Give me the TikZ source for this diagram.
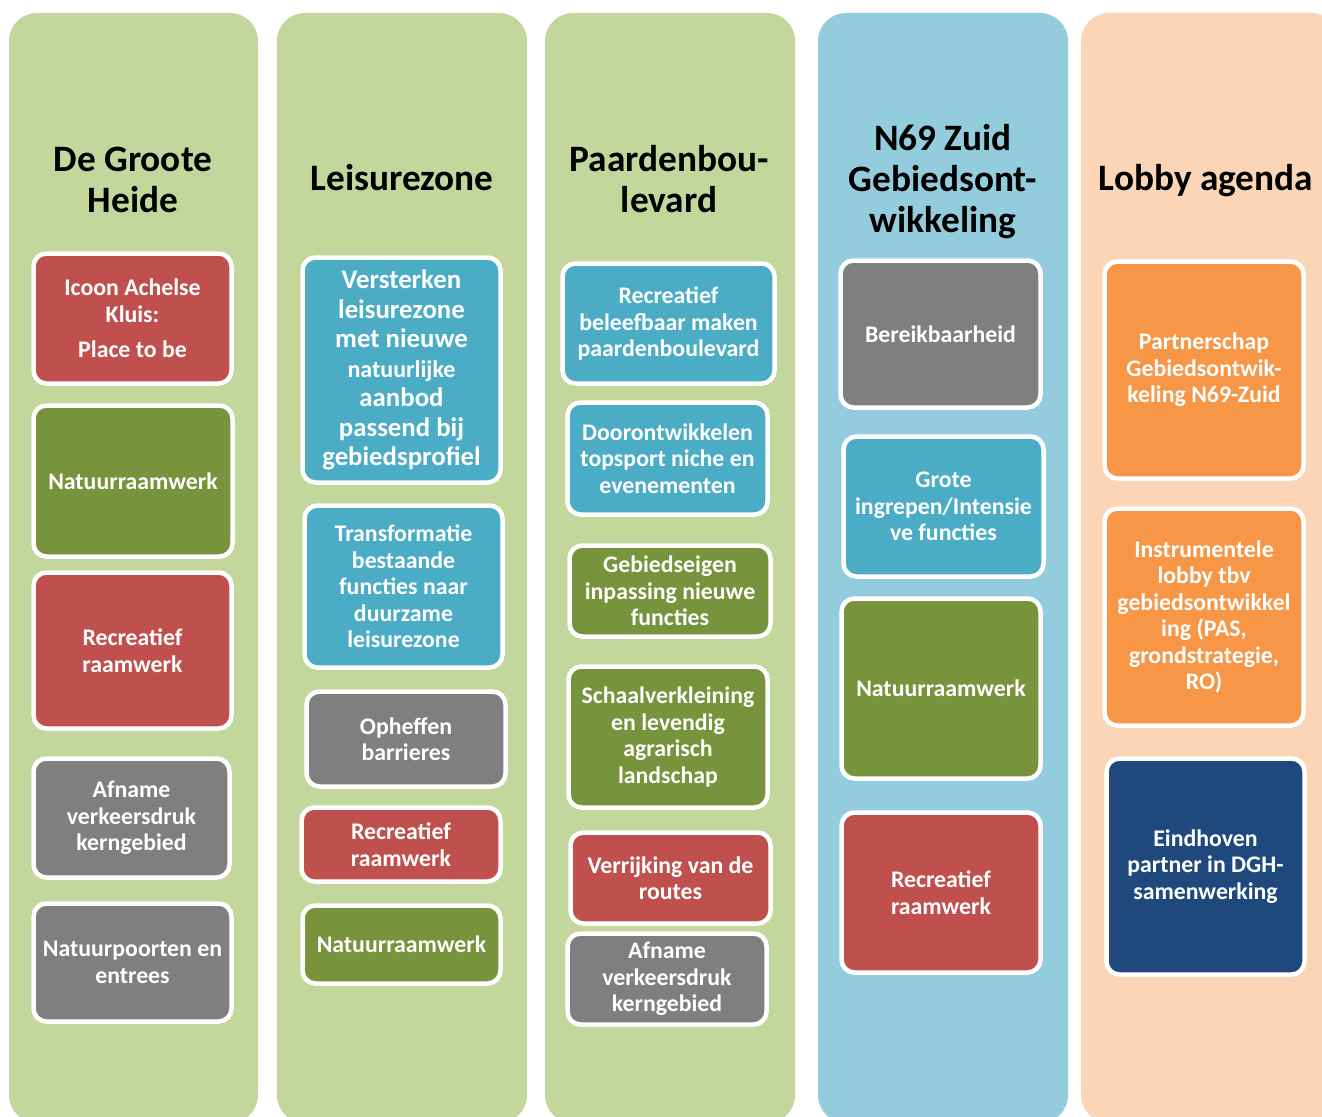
\documentclass[tikz,border=0pt]{standalone}
\usepackage{fontspec}
\setmainfont{Carlito}
\definecolor{colgreen}{HTML}{C3D69B}
\definecolor{colblue}{HTML}{93CDDD}
\definecolor{colpeach}{HTML}{FBD5B5}
\definecolor{bred}{HTML}{C0504D}
\definecolor{bgreen}{HTML}{77933C}
\definecolor{bgray}{HTML}{7F7F7F}
\definecolor{bblue}{HTML}{4BACC6}
\definecolor{borange}{HTML}{F79646}
\definecolor{bnavy}{HTML}{1F497D}
\tikzset{
  column/.style={rounded corners=28pt, draw=none, inner sep=0pt},
  coltitle/.style={align=center, text=black, font=\bfseries\fontsize{37.3}{41}\selectfont, inner sep=0pt},
  box/.style={draw=white, line width=4.5pt, rounded corners=13pt, text=white, align=center, inner sep=0pt,
    font=\bfseries\fontsize{23.8}{26.5}\selectfont},
  bigbox/.style={box, font=\bfseries\fontsize{26.8}{29.5}\selectfont}
}
\begin{document}
\begin{tikzpicture}[x=1pt,y=-1pt]
\useasboundingbox (0,0) rectangle (1322,1116);
\clip (0,0) rectangle (1322,1116);
\fill[white] (0,0) rectangle (1322,1116);
% columns
\node[column, fill=colgreen, minimum width=249pt, minimum height=1110pt] (col1) at (133.5,568) {};
\node[column, fill=colgreen, minimum width=250pt, minimum height=1110pt] (col2) at (402,568) {};
\node[column, fill=colgreen, minimum width=250pt, minimum height=1110pt] (col3) at (670,568) {};
\node[column, fill=colblue, minimum width=250pt, minimum height=1110pt] (col4) at (943,568) {};
\node[column, fill=colpeach, minimum width=259pt, minimum height=1110pt] (col5) at (1210.5,568) {};
% titles
\node[coltitle] (t1) at (133,179.5) {De Groote\\Heide};
\node[coltitle] (t2) at (402,178) {Leisurezone};
\node[coltitle] (t3) at (669,179.5) {Paardenbou-\\levard};
\node[coltitle] (t4) at (943,182) {N69 Zuid\\Gebiedsont-\\wikkeling};
\node[coltitle] (t5) at (1206,181) {Lobby agenda};
% column 1
\node[box, fill=bred, minimum width=198pt, minimum height=130pt] (b1) at (132.5,318.5) {Icoon Achelse\\Kluis:\\[9pt]Place to be};
\node[box, fill=bgreen, minimum width=199pt, minimum height=151pt] (b2) at (133,481) {Natuurraamwerk};
\node[box, fill=bred, minimum width=198pt, minimum height=156pt] (b3) at (132.5,650.5) {Recreatief\\raamwerk};
\node[box, fill=bgray, minimum width=196pt, minimum height=119pt] (b4) at (131.5,818) {Afname\\verkeersdruk\\kerngebied};
\node[box, fill=bgray, minimum width=198pt, minimum height=118pt] (b5) at (132.5,962.5) {Natuurpoorten en\\entrees};
% column 2
\node[bigbox, fill=bblue, minimum width=198pt, minimum height=225pt] (c1) at (401.5,370) {Versterken\\leisurezone\\met nieuwe\\{\fontsize{24}{29.5}\selectfont natuurlijke}\\aanbod\\passend bij\\gebiedsprofiel};
\node[box, fill=bblue, minimum width=198pt, minimum height=162pt] (c2) at (403.5,586.5) {Transformatie\\bestaande\\functies naar\\duurzame\\leisurezone};
\node[box, fill=bgray, minimum width=199pt, minimum height=95pt] (c3) at (406,739) {Opheffen\\barrieres};
\node[box, fill=bred, minimum width=199pt, minimum height=74pt] (c4) at (401,844.5) {Recreatief\\raamwerk};
\node[box, fill=bgreen, minimum width=198pt, minimum height=78pt] (c5) at (401.5,944.5) {Natuurraamwerk};
% column 3
\node[box, fill=bblue, minimum width=212pt, minimum height=120pt] (d1) at (668.5,323.5) {Recreatief\\beleefbaar maken\\paardenboulevard};
\node[box, fill=bblue, minimum width=200pt, minimum height=112pt] (d2) at (667.5,458.5) {Doorontwikkelen\\topsport niche en\\evenementen};
\node[box, fill=bgreen, minimum width=201pt, minimum height=91pt] (d3) at (670,591) {Gebiedseigen\\inpassing nieuwe\\functies};
\node[box, fill=bgreen, minimum width=199pt, minimum height=141pt] (d4) at (668,737) {Schaalverkleining\\en levendig\\agrarisch\\landschap};
\node[box, fill=bred, minimum width=200pt, minimum height=91pt] (d5) at (670.5,878) {Verrijking van de\\routes};
\node[box, fill=bgray, minimum width=199pt, minimum height=91pt] (d6) at (667,979) {Afname\\verkeersdruk\\kerngebied};
% column 4
\node[box, fill=bgray, minimum width=200pt, minimum height=147pt] (e1) at (940.5,334) {Bereikbaarheid};
\node[box, fill=bblue, minimum width=200pt, minimum height=140pt] (e2) at (943.5,506.5) {Grote\\ingrepen/Intensie\\ve functies};
\node[box, fill=bgreen, minimum width=199pt, minimum height=180pt] (e3) at (941,688.5) {Natuurraamwerk};
\node[box, fill=bred, minimum width=199pt, minimum height=160pt] (e4) at (941,892.5) {Recreatief\\raamwerk};
% column 5
\node[box, fill=borange, minimum width=199pt, minimum height=217pt] (f1) at (1204,370) {Partnerschap\\Gebiedsontwik-\\keling N69-Zuid};
\node[box, fill=borange, minimum width=199pt, minimum height=217pt] (f2) at (1204,617) {Instrumentele\\lobby tbv\\gebiedsontwikkel\\ing (PAS,\\grondstrategie,\\RO)};
\node[box, fill=bnavy, minimum width=198pt, minimum height=216pt] (f3) at (1205.5,866.5) {Eindhoven\\partner in DGH-\\samenwerking};
\end{tikzpicture}
\end{document}
